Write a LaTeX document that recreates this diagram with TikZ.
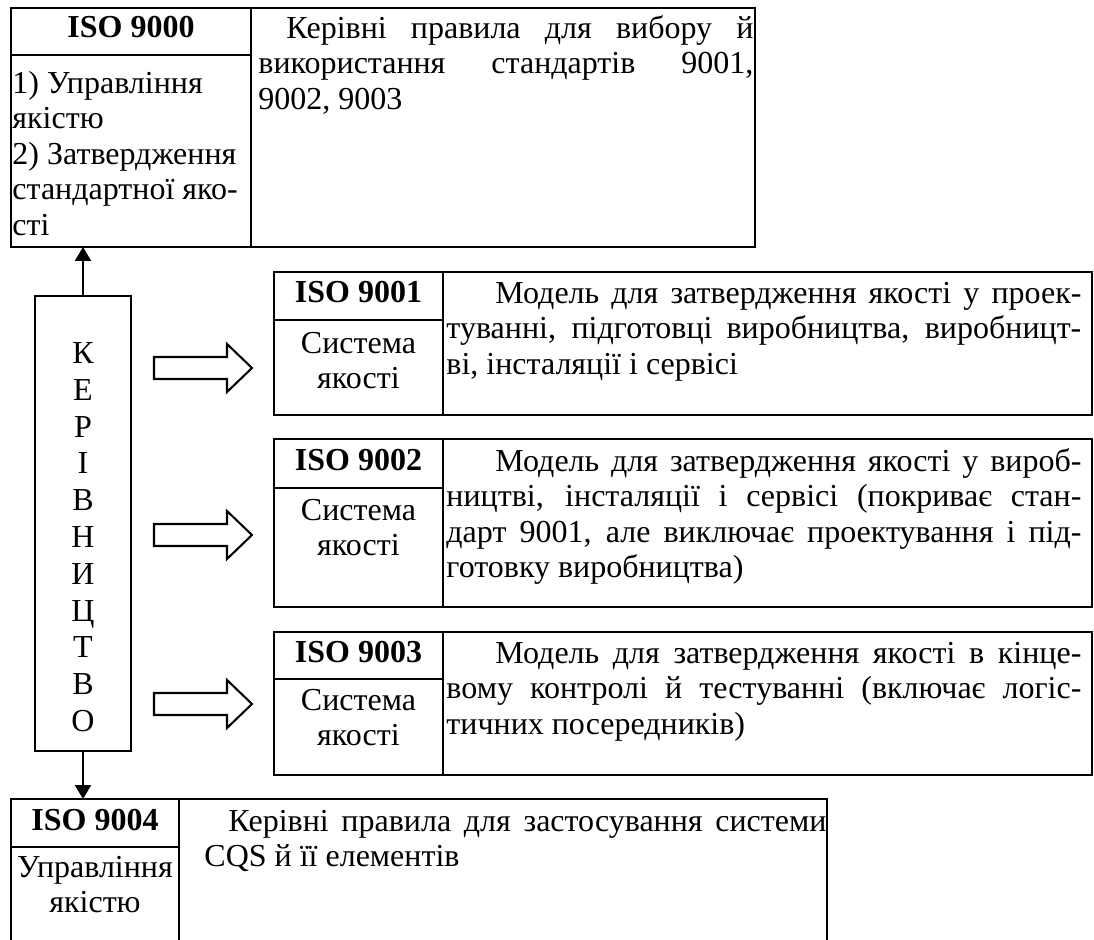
\documentclass[tikz,border=0pt]{standalone}
\usepackage{fontspec}
\setmainfont{Liberation Serif}
\usetikzlibrary{fit,arrows.meta}

% text settings: 14pt body, one-and-a-bit line spacing
\newcommand\bodyfont{\fontsize{14pt}{15.53pt}\selectfont}
\newcommand\letterfont{\fontsize{14pt}{16.1pt}\selectfont}
% justified full line, indented first line, ragged last line
\newcommand\jl[2]{\strut\makebox[#1][s]{#2}}
\newcommand\fl[3]{\strut\hspace*{#1}\makebox[#2][s]{#3}}
\newcommand\el[1]{\strut #1}

\tikzset{
  cell/.style={draw, inner sep=0pt, outer sep=0pt, line width=0.9pt},
  head/.style={font=\bodyfont\bfseries, inner sep=0pt, anchor=base},
  body/.style={font=\bodyfont, inner sep=0pt, align=left, anchor=north west},
  mid/.style={font=\bodyfont, inner sep=0pt, align=center, anchor=north},
  conn/.style={line width=0.9pt, -{Triangle[length=6.1pt,width=7pt]}},
  blockarrow/.style={draw, line width=0.9pt, fill=white, line join=miter},
}

\begin{document}
\begin{tikzpicture}[x=0.4375pt, y=-0.4375pt]
\fill[white] (0,0) rectangle (1094,940);
\clip (0,0) rectangle (1094,940);
\def\sh{24.85}

% ---------- ISO 9000 ----------
\node[cell, fit={(11,8)(251,55)}] (h0) {};
\node[cell, fit={(11,55)(251,247)}] (l0) {};
\node[cell, fit={(251,8)(755,247)}] (r0) {};
\node[head] (h0t) at (131,38) {ISO 9000};
\node[body] (l0t) at (12,{93-\sh}) {\el{1) Управління}\\ \el{якістю}\\ \el{2) Затвердження}\\ \el{стандартної яко-}\\ \el{сті}};
\node[body] (r0t) at (258,{38-\sh}) {\fl{12.25pt}{204.31pt}{Керівні правила для вибору й}\\
  \jl{216.56pt}{використання стандартів 9001,}\\ \el{9002, 9003}};

% ---------- ISO 9001 ----------
\node[cell, fit={(274,272)(443,320)}] (h1) {};
\node[cell, fit={(274,320)(443,415)}] (l1) {};
\node[cell, fit={(443,272)(1092,415)}] (r1) {};
\node[head] (h1t) at (358.5,303) {ISO 9001};
\node[mid] (l1t) at (358.5,{353-\sh}) {\el{Система}\\ \el{якості}};
\node[body] (r1t) at (446,{303-\sh}) {\fl{21.44pt}{256.38pt}{Модель для затвердження якості у проек-}\\
  \jl{277.81pt}{туванні, підготовці виробництва, виробницт-}\\
  \el{ві, інсталяції і сервісі}};

% ---------- ISO 9002 ----------
\node[cell, fit={(274,439)(443,488)}] (h2) {};
\node[cell, fit={(274,488)(443,607)}] (l2) {};
\node[cell, fit={(443,439)(1092,607)}] (r2) {};
\node[head] (h2t) at (358.5,471) {ISO 9002};
\node[mid] (l2t) at (358.5,{520-\sh}) {\el{Система}\\ \el{якості}};
\node[body] (r2t) at (446,{471-\sh}) {\fl{21.44pt}{256.38pt}{Модель для затвердження якості у вироб-}\\
  \jl{277.81pt}{ництві, інсталяції і сервісі (покриває стан-}\\
  \jl{277.81pt}{дарт 9001, але виключає проектування і під-}\\
  \el{готовку виробництва)}};

% ---------- ISO 9003 ----------
\node[cell, fit={(274,632)(443,679)}] (h3) {};
\node[cell, fit={(274,679)(443,775)}] (l3) {};
\node[cell, fit={(443,632)(1092,775)}] (r3) {};
\node[head] (h3t) at (358.5,663) {ISO 9003};
\node[mid] (l3t) at (358.5,{710-\sh}) {\el{Система}\\ \el{якості}};
\node[body] (r3t) at (446,{663-\sh}) {\fl{21.44pt}{256.38pt}{Модель для затвердження якості в кінце-}\\
  \jl{277.81pt}{вому контролі й тестуванні (включає логіс-}\\
  \el{тичних посередників)}};

% ---------- management column ----------
\node[cell, fit={(35,296)(131,751)}] (ker) {};
\node[font=\letterfont, inner sep=0pt, align=center, anchor=north] (kert) at (83,{363-25.76})
  {\el{К}\\ \el{Е}\\ \el{Р}\\ \el{І}\\ \el{В}\\ \el{Н}\\ \el{И}\\ \el{Ц}\\ \el{Т}\\ \el{В}\\ \el{О}};

% ---------- ISO 9004 (runs past the lower edge) ----------
\node[cell, fit={(11,799)(179,847)}] (h4) {};
\node[cell, fit={(11,847)(179,960)}] (l4) {};
\node[cell, fit={(179,799)(827,960)}] (r4) {};
\node[head] (h4t) at (95,831) {ISO 9004};
\node[mid] (l4t) at (95,{877-\sh}) {\el{Управління}\\ \el{якістю}};
\node[body] (r4t) at (204,{831-\sh}) {\fl{10.5pt}{261.63pt}{Керівні правила для застосування системи}\\
  \el{CQS й її елементів}};

% ---------- connectors ----------
\draw[conn] (ker.north) -- (ker.north |- l0.south);
\draw[conn] (ker.south) -- (ker.south |- h4.north);

% hollow block arrows towards the standards
\foreach \c in {368,535,704}
  \draw[blockarrow] (154,{\c-11}) -- (227,{\c-11}) -- (227,{\c-24}) -- (252,\c)
    -- (227,{\c+24}) -- (227,{\c+11}) -- (154,{\c+11}) -- cycle;
\end{tikzpicture}
\end{document}
